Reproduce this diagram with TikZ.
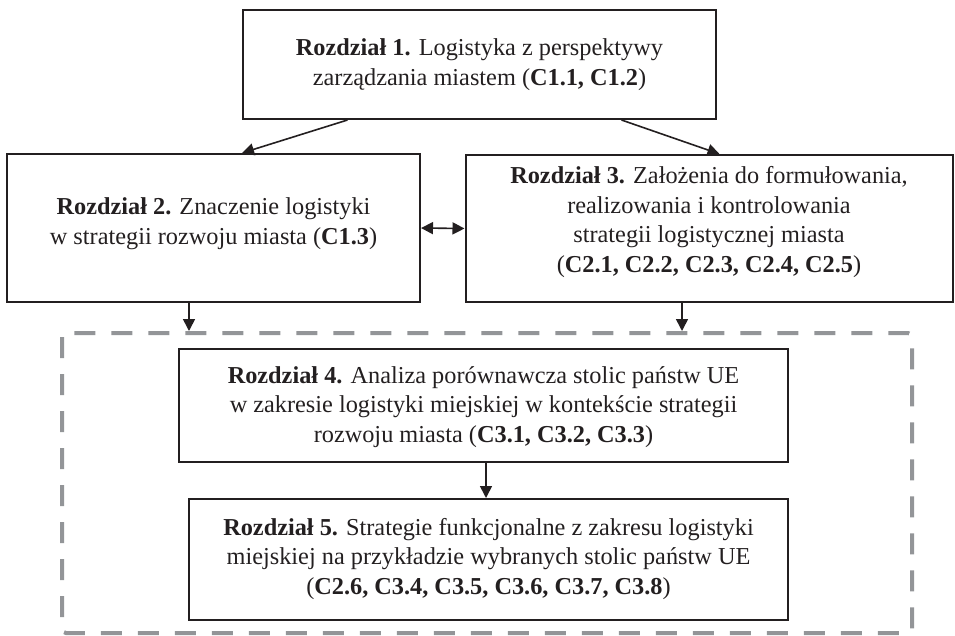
\documentclass[tikz,border=0pt]{standalone}
\usepackage{fontspec}
\setmainfont{Liberation Serif}
\usetikzlibrary{arrows.meta}
\definecolor{ink}{HTML}{231F20}
\definecolor{dashgray}{HTML}{939598}
\tikzset{
  boxframe/.style={draw=ink, line width=2pt, rectangle, inner sep=0pt},
  boxtext/.style={align=center, text=ink, font=\fontsize{24.3}{29.8}\selectfont, inner sep=0pt},
  conn/.style={draw=ink, line width=1.6pt, -{Triangle[length=12pt,width=12pt]}},
  bothconn/.style={draw=ink, line width=1.6pt, {Triangle[length=12pt,width=12pt]}-{Triangle[length=12pt,width=12pt]}},
  groupframe/.style={draw=dashgray, line width=4pt, dash pattern=on 21pt off 16pt, rounded corners=4pt}
}
\begin{document}
\begin{tikzpicture}[x=1pt,y=-1pt]
\useasboundingbox (0,0) rectangle (955,635);
% dashed group
\draw[groupframe] (62,333) rectangle (912,633);
% boxes
\node[boxframe, minimum width=473pt, minimum height=109pt] (b1) at (479.5,64.5) {};
\node[boxframe, minimum width=413pt, minimum height=148pt] (b2) at (213.5,228) {};
\node[boxframe, minimum width=487pt, minimum height=147pt] (b3) at (709,228.5) {};
\node[boxframe, minimum width=609pt, minimum height=113pt] (b4) at (483.5,405.5) {};
\node[boxframe, minimum width=599pt, minimum height=121pt] (b5) at (488.5,559.5) {};
% texts
\node[boxtext] (t1) at (479.5,65) {\textbf{Rozdział 1.} Logistyka z perspektywy\\zarządzania miastem (\textbf{C1.1, C1.2})};
\node[boxtext] (t2) at (213.5,224) {\textbf{Rozdział 2.} Znaczenie logistyki\\w strategii rozwoju miasta (\textbf{C1.3})};
\node[boxtext] (t3) at (709,222) {\textbf{Rozdział 3.} Założenia do formułowania,\\realizowania i kontrolowania\\strategii logistycznej miasta\\(\textbf{C2.1, C2.2, C2.3, C2.4, C2.5})};
\node[boxtext] (t4) at (483.5,407) {\textbf{Rozdział 4.} Analiza porównawcza stolic państw UE\\w zakresie logistyki miejskiej w kontekście strategii\\rozwoju miasta (\textbf{C3.1, C3.2, C3.3})};
\node[boxtext] (t5) at (488.5,559) {\textbf{Rozdział 5.} Strategie funkcjonalne z zakresu logistyki\\miejskiej na przykładzie wybranych stolic państw UE\\(\textbf{C2.6, C3.4, C3.5, C3.6, C3.7, C3.8})};
% group entry points
\coordinate (g2) at (189,331);
\coordinate (g3) at (682,331);
% connectors
\draw[conn] ([xshift=-132pt]b1.south) -- ([xshift=236pt]b2.north west);
\draw[conn] ([xshift=142pt]b1.south) -- ([xshift=255pt]b3.north west);
\draw[bothconn] (b2.east) -- (b3.west);
\draw[conn] (b2.south -| g2) -- (g2);
\draw[conn] (b3.south -| g3) -- (g3);
\draw[conn] (b4.south -| 486,0) -- (b5.north -| 486,0);
\end{tikzpicture}
\end{document}
